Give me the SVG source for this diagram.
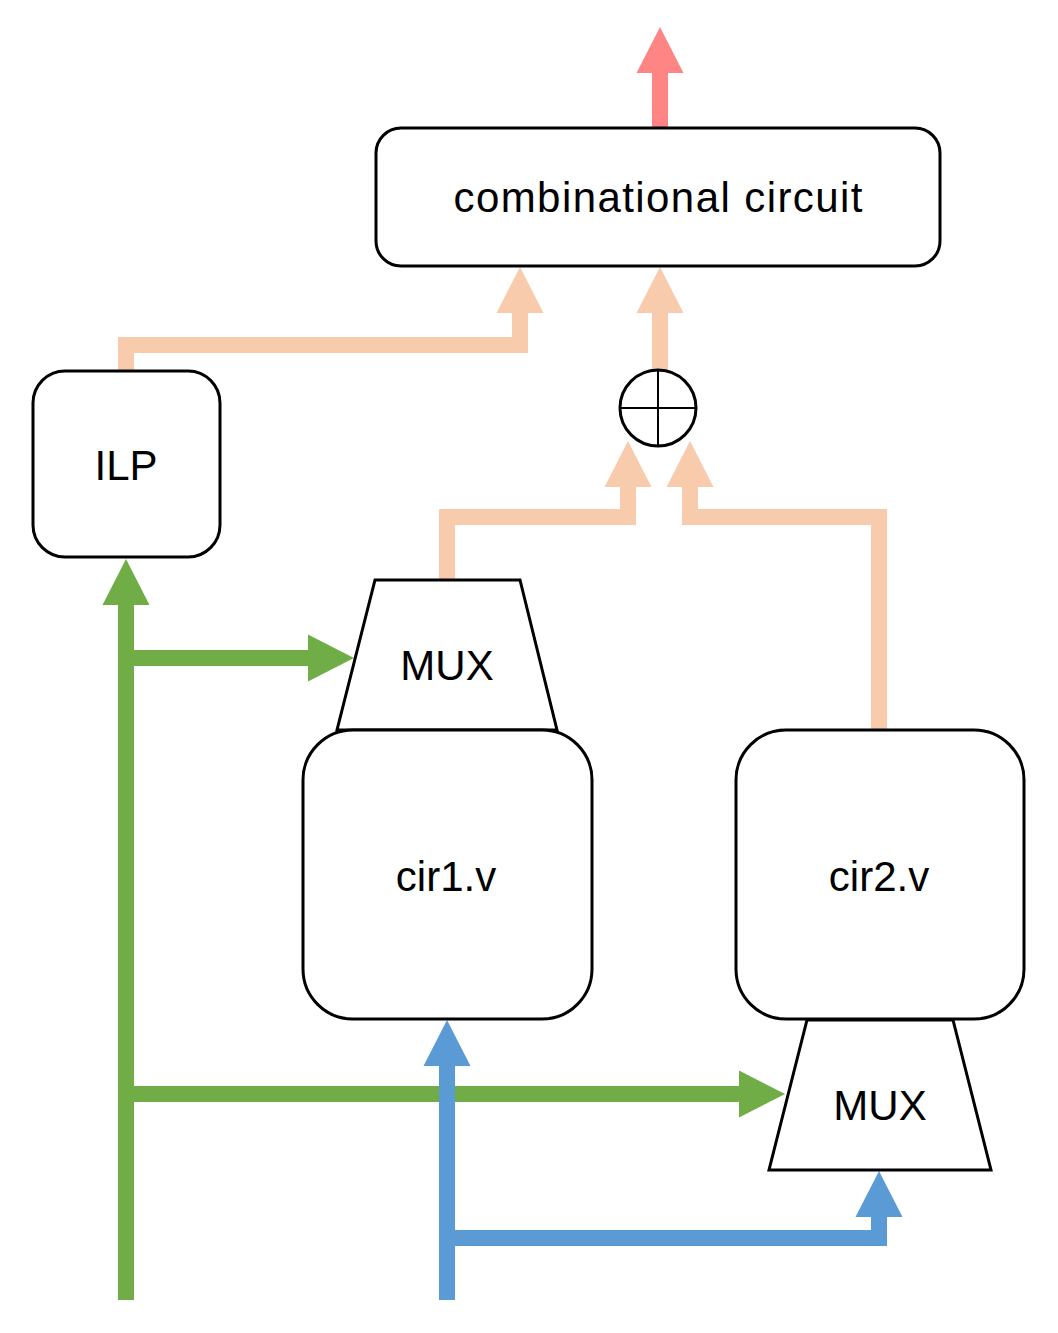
<svg xmlns="http://www.w3.org/2000/svg" width="1058" height="1333" viewBox="0 0 1058 1333">
<style>
.box{fill:#fff;stroke:#000;stroke-width:3}
.lbl{font-family:"Liberation Sans",Arial,sans-serif;font-size:42px;fill:#000;text-anchor:middle}
.c{fill:none;stroke-width:16;stroke-linejoin:miter;stroke-linecap:butt}
.g{stroke:#70AD47}.b{stroke:#5B9BD5}.o{stroke:#F8CBAD}.r{stroke:#FF8585}
</style>
<defs>
<marker id="hg" markerUnits="userSpaceOnUse" markerWidth="47" markerHeight="48" refX="0" refY="23.5" orient="auto" overflow="visible"><path d="M0,0 L46,23.5 L0,47 z" fill="#70AD47"/></marker>
<marker id="hb" markerUnits="userSpaceOnUse" markerWidth="47" markerHeight="48" refX="0" refY="23.5" orient="auto" overflow="visible"><path d="M0,0 L46,23.5 L0,47 z" fill="#5B9BD5"/></marker>
<marker id="ho" markerUnits="userSpaceOnUse" markerWidth="47" markerHeight="48" refX="0" refY="23.5" orient="auto" overflow="visible"><path d="M0,0 L46,23.5 L0,47 z" fill="#F8CBAD"/></marker>
<marker id="hr" markerUnits="userSpaceOnUse" markerWidth="47" markerHeight="48" refX="0" refY="23.5" orient="auto" overflow="visible"><path d="M0,0 L46,23.5 L0,47 z" fill="#FF8585"/></marker>
</defs>
<rect width="1058" height="1333" fill="#fff"/>
<g id="connectors">
<path class="c g" d="M126,1300 V605" marker-end="url(#hg)"/>
<path class="c g" d="M126,658 H308" marker-end="url(#hg)"/>
<path class="c g" d="M126,1094 H739" marker-end="url(#hg)"/>
<path class="c b" d="M447,1300 V1066" marker-end="url(#hb)"/>
<path class="c b" d="M447,1238 H879 V1217" marker-end="url(#hb)"/>
<path class="c o" d="M126,371 V345 H520 V313" marker-end="url(#ho)"/>
<path class="c o" d="M447,580 V517 H628 V487" marker-end="url(#ho)"/>
<path class="c o" d="M879,730 V517 H690 V487" marker-end="url(#ho)"/>
<path class="c o" d="M660,370 V313" marker-end="url(#ho)"/>
<path class="c r" d="M660,128 V73" marker-end="url(#hr)"/>
</g>
<g id="combinational">
<rect class="box" x="376" y="128" width="564" height="138" rx="25"/>
<text class="lbl" x="658" y="212" textLength="409" lengthAdjust="spacing">combinational circuit</text>
</g>
<g id="ilp">
<rect class="box" x="33" y="371" width="187" height="186" rx="32"/>
<text class="lbl" x="126" y="480">ILP</text>
</g>
<g id="xor">
<circle class="box" cx="658" cy="408" r="38"/>
<path d="M658,370 V446 M620,408 H696" stroke="#000" stroke-width="2"/>
</g>
<g id="mux1">
<path class="box" d="M375,580 H520 L557,730 H337 z"/>
<text class="lbl" x="447" y="680">MUX</text>
</g>
<g id="cir1">
<rect class="box" x="303" y="730" width="289" height="289" rx="50"/>
<text class="lbl" x="446" y="891">cir1.v</text>
</g>
<g id="cir2">
<rect class="box" x="736" y="730" width="288" height="289" rx="50"/>
<text class="lbl" x="879" y="891">cir2.v</text>
</g>
<g id="mux2">
<path class="box" d="M807,1020 H953 L991,1170 H769 z"/>
<text class="lbl" x="880" y="1120">MUX</text>
</g>
</svg>
